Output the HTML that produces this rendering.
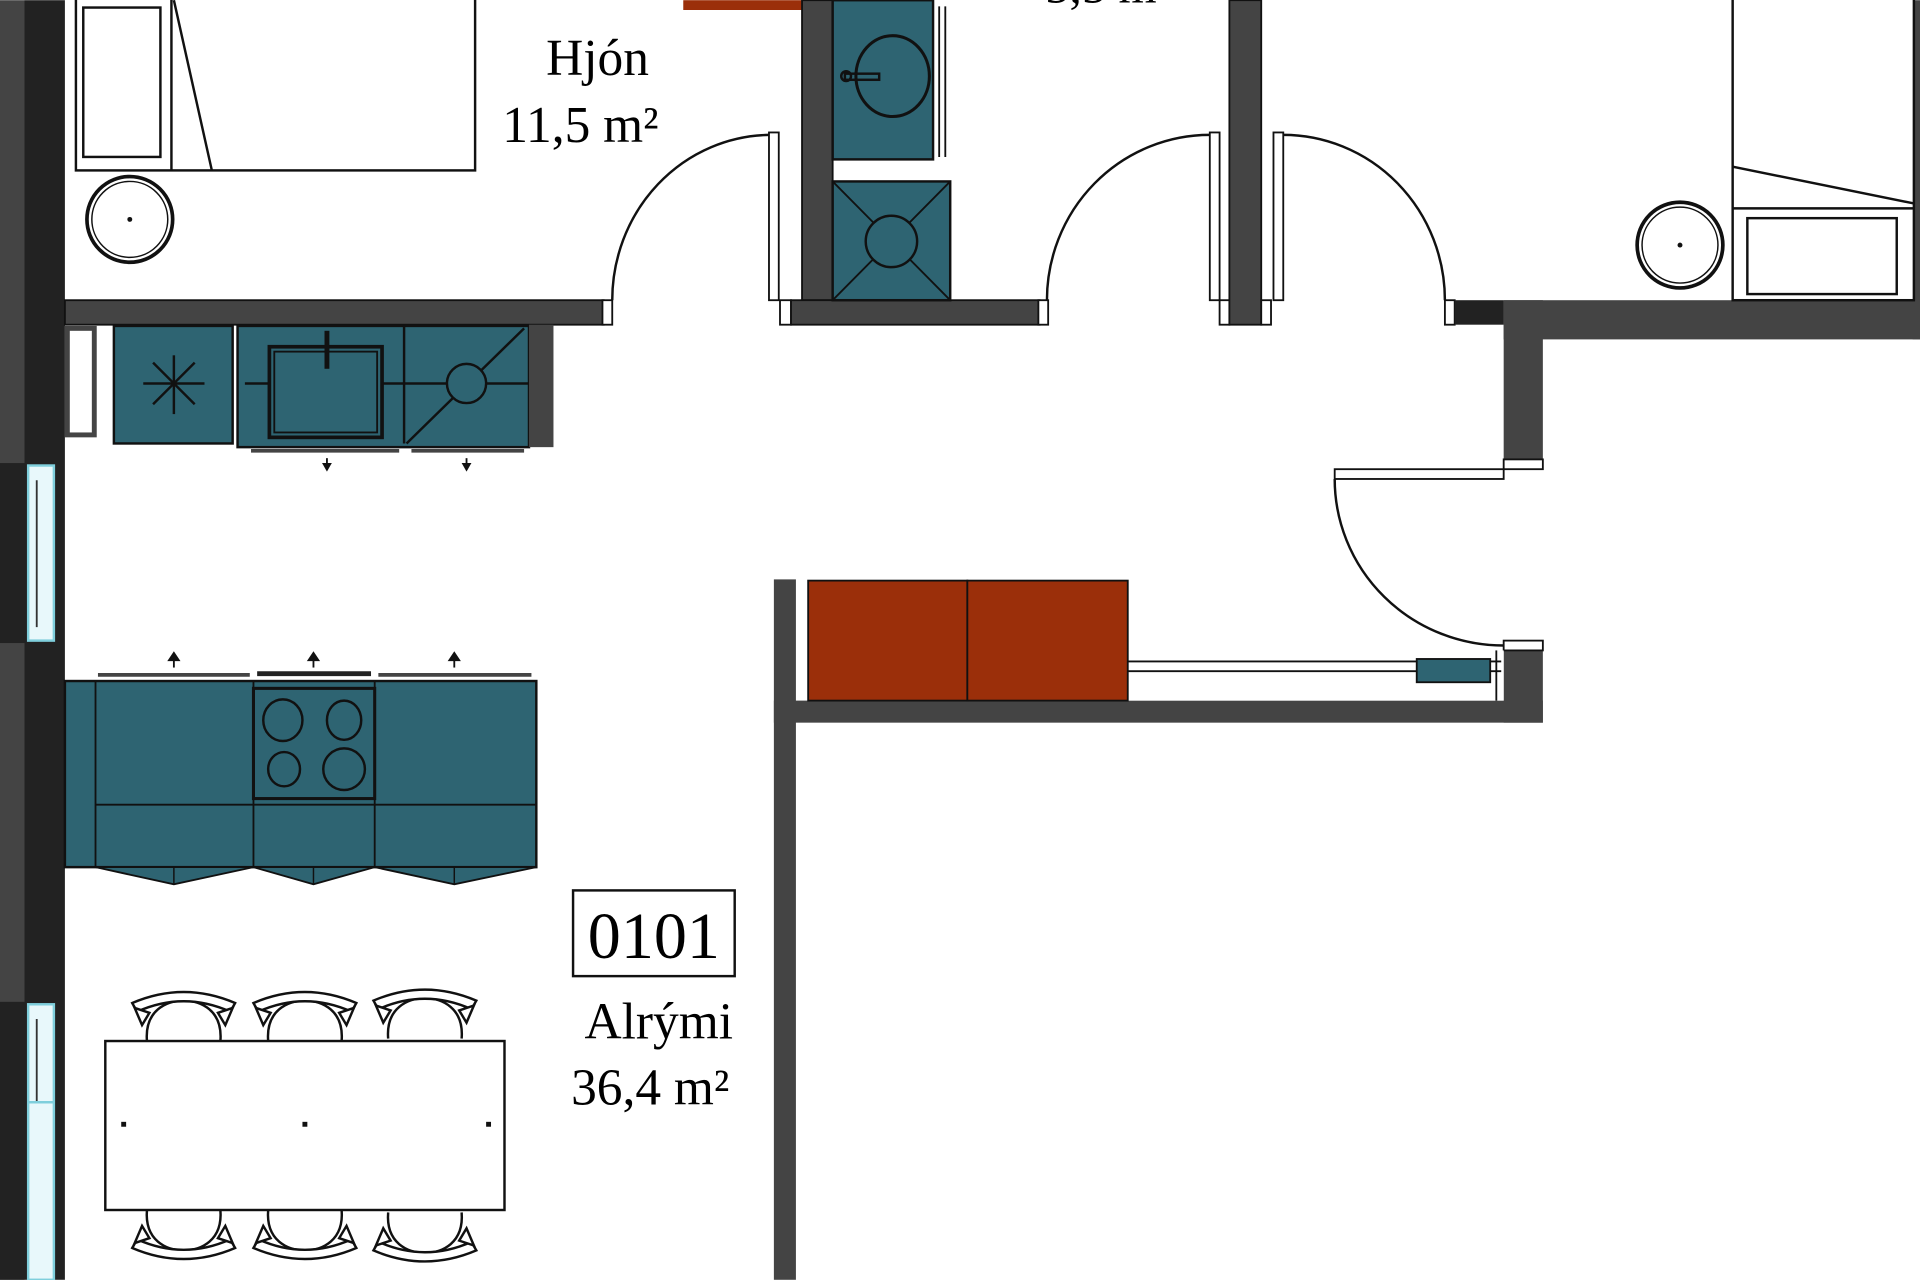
<!DOCTYPE html>
<html><head><meta charset="utf-8"><style>html,body{margin:0;padding:0;background:#fff;width:1920px;height:1280px;overflow:hidden}svg{display:block}</style></head>
<body>
<svg width="1920" height="1280" viewBox="0 0 1568 1045" xmlns="http://www.w3.org/2000/svg" font-family="'Liberation Serif', serif">
<defs>
<g id="chairT"><path d="M-30,-1 C-32,-26 -14,-34 0,-34 C14,-34 32,-26 30,-1" fill="none" stroke="#111" stroke-width="2"/><path d="M-42,-32 Q0,-50 42,-32 L38,-25 Q0,-42 -38,-25 Z" fill="#fff" stroke="#111" stroke-width="2"/><path d="M-40,-28 L-28,-24 L-34,-14 Z" fill="#fff" stroke="#111" stroke-width="2"/><path d="M40,-28 L28,-24 L34,-14 Z" fill="#fff" stroke="#111" stroke-width="2"/></g>
</defs>
<rect x="558" y="0" width="97" height="8" fill="#9b2f0a"/>
<text x="905" y="2" font-size="40" text-anchor="middle">5,5 m²</text>
<rect x="0" y="0" width="20" height="1045" fill="#444"/>
<rect x="20" y="0" width="33" height="1045" fill="#222"/>
<rect x="0" y="378" width="20" height="147" fill="#222"/>
<rect x="0" y="818" width="20" height="227" fill="#222"/>
<rect x="23" y="380" width="21" height="143" fill="#e8f8fb" stroke="#7fcfdc" stroke-width="2"/>
<line x1="30" y1="392" x2="30" y2="512" stroke="#333" stroke-width="1.5"/>
<rect x="23" y="820" width="21" height="225" fill="#e8f8fb" stroke="#7fcfdc" stroke-width="2"/>
<line x1="30" y1="832" x2="30" y2="900" stroke="#333" stroke-width="1.5"/>
<line x1="23" y1="900" x2="44" y2="900" stroke="#7fcfdc" stroke-width="2"/>
<rect x="62" y="-2" width="326" height="141" fill="#fff" stroke="#111" stroke-width="2"/>
<line x1="140" y1="-2" x2="140" y2="139" stroke="#111" stroke-width="2"/>
<rect x="68" y="6" width="63" height="122" fill="#fff" stroke="#111" stroke-width="2"/>
<line x1="142" y1="0" x2="173" y2="139" stroke="#111" stroke-width="2"/>
<circle cx="106" cy="179" r="35" fill="none" stroke="#111" stroke-width="3"/>
<circle cx="106" cy="179" r="31" fill="none" stroke="#111" stroke-width="1.2"/>
<circle cx="106" cy="179" r="2" fill="#111"/>
<text x="488" y="61" font-size="42" text-anchor="middle">Hjón</text>
<text x="474" y="116" font-size="42" text-anchor="middle">11,5 m²</text>
<rect x="53" y="245" width="440" height="20" fill="#444" stroke="#111" stroke-width="1.5"/>
<rect x="492" y="245" width="8" height="20" fill="#fff" stroke="#111" stroke-width="1.5"/>
<rect x="628" y="108" width="8" height="137" fill="#fff" stroke="#111" stroke-width="1.5"/>
<path d="M628,110 A130,135 0 0 0 500,245" fill="none" stroke="#111" stroke-width="2"/>
<rect x="637" y="245" width="9" height="20" fill="#fff" stroke="#111" stroke-width="1.5"/>
<rect x="655" y="0" width="25" height="245" fill="#444" stroke="#111" stroke-width="1.5"/>
<rect x="646" y="245" width="203" height="20" fill="#444" stroke="#111" stroke-width="1.5"/>
<rect x="680" y="0" width="82" height="130" fill="#2e6472" stroke="#111" stroke-width="2"/>
<ellipse cx="729" cy="62" rx="30" ry="33" fill="none" stroke="#111" stroke-width="2.5"/>
<rect x="690" y="60" width="28" height="5" fill="none" stroke="#111" stroke-width="2"/>
<circle cx="691" cy="62" r="4" fill="none" stroke="#111" stroke-width="2"/>
<line x1="767" y1="5" x2="767" y2="128" stroke="#111" stroke-width="1.5"/>
<line x1="772" y1="5" x2="772" y2="128" stroke="#111" stroke-width="1.5"/>
<rect x="680" y="148" width="96" height="97" fill="#2e6472" stroke="#111" stroke-width="2"/>
<line x1="680" y1="148" x2="776" y2="245" stroke="#111" stroke-width="1.5"/>
<line x1="776" y1="148" x2="680" y2="245" stroke="#111" stroke-width="1.5"/>
<circle cx="728" cy="197" r="21" fill="#2e6472" stroke="#111" stroke-width="2"/>
<rect x="848" y="245" width="8" height="20" fill="#fff" stroke="#111" stroke-width="1.5"/>
<rect x="988" y="108" width="8" height="137" fill="#fff" stroke="#111" stroke-width="1.5"/>
<path d="M988,110 A133,135 0 0 0 855,245" fill="none" stroke="#111" stroke-width="2"/>
<rect x="996" y="245" width="8" height="20" fill="#fff" stroke="#111" stroke-width="1.5"/>
<rect x="1004" y="0" width="26" height="265" fill="#444" stroke="#111" stroke-width="1.5"/>
<rect x="1030" y="245" width="8" height="20" fill="#fff" stroke="#111" stroke-width="1.5"/>
<rect x="1040" y="108" width="8" height="137" fill="#fff" stroke="#111" stroke-width="1.5"/>
<path d="M1048,110 A132,135 0 0 1 1180,245" fill="none" stroke="#111" stroke-width="2"/>
<rect x="1180" y="245" width="8" height="20" fill="#fff" stroke="#111" stroke-width="1.5"/>
<rect x="1188" y="245" width="40" height="20" fill="#222"/>
<rect x="1228" y="245" width="340" height="32" fill="#444"/>
<rect x="1228" y="245" width="32" height="130" fill="#444"/>
<rect x="1562" y="0" width="6" height="277" fill="#444"/>
<rect x="1228" y="375" width="32" height="8" fill="#fff" stroke="#111" stroke-width="1.5"/>
<rect x="1415" y="-2" width="148" height="247" fill="#fff" stroke="#111" stroke-width="2"/>
<line x1="1415" y1="136" x2="1563" y2="166" stroke="#111" stroke-width="2"/>
<line x1="1415" y1="170" x2="1563" y2="170" stroke="#111" stroke-width="2"/>
<rect x="1427" y="178" width="122" height="62" fill="#fff" stroke="#111" stroke-width="2"/>
<circle cx="1372" cy="200" r="35" fill="none" stroke="#111" stroke-width="3"/>
<circle cx="1372" cy="200" r="31" fill="none" stroke="#111" stroke-width="1.2"/>
<circle cx="1372" cy="200" r="2" fill="#111"/>
<rect x="1090" y="383" width="138" height="8" fill="#fff" stroke="#111" stroke-width="1.5"/>
<path d="M1090,391 A138,136 0 0 0 1228,527" fill="none" stroke="#111" stroke-width="2"/>
<rect x="632" y="473" width="18" height="572" fill="#444"/>
<rect x="632" y="572" width="628" height="18" fill="#444"/>
<rect x="1228" y="523" width="32" height="67" fill="#444"/>
<rect x="1228" y="523" width="32" height="8" fill="#fff" stroke="#111" stroke-width="1.5"/>
<rect x="921" y="531" width="307" height="41" fill="#fff"/>
<rect x="660" y="474" width="130" height="98" fill="#9b2f0a" stroke="#111" stroke-width="1.5"/>
<rect x="790" y="474" width="131" height="98" fill="#9b2f0a" stroke="#111" stroke-width="1.5"/>
<line x1="921" y1="540" x2="1226" y2="540" stroke="#111" stroke-width="1.5"/>
<line x1="921" y1="548" x2="1226" y2="548" stroke="#111" stroke-width="1.5"/>
<line x1="1222" y1="531" x2="1222" y2="572" stroke="#111" stroke-width="1.5"/>
<rect x="1157" y="538" width="60" height="19" fill="#2e6472" stroke="#111" stroke-width="1.5"/>
<rect x="55" y="268" width="22" height="87" fill="#fff" stroke="#444" stroke-width="4"/>
<rect x="93" y="266" width="97" height="96" fill="#2e6472" stroke="#111" stroke-width="2"/>
<g stroke="#111" stroke-width="2"><line x1="142" y1="290" x2="142" y2="338"/><line x1="117" y1="313" x2="167" y2="313"/><line x1="125" y1="296" x2="159" y2="330"/><line x1="159" y1="296" x2="125" y2="330"/></g>
<rect x="194" y="266" width="238" height="99" fill="#2e6472" stroke="#111" stroke-width="2"/>
<line x1="330" y1="266" x2="330" y2="362" stroke="#111" stroke-width="2"/>
<line x1="200" y1="313" x2="432" y2="313" stroke="#111" stroke-width="2"/>
<rect x="220" y="283" width="92" height="74" fill="#2e6472" stroke="#111" stroke-width="3"/>
<rect x="224" y="287" width="84" height="66" fill="#2e6472" stroke="#111" stroke-width="1.5"/>
<line x1="267" y1="270" x2="267" y2="301" stroke="#111" stroke-width="4"/>
<line x1="332" y1="362" x2="428" y2="268" stroke="#111" stroke-width="2"/>
<circle cx="381" cy="313" r="16" fill="#2e6472" stroke="#111" stroke-width="2"/>
<rect x="432" y="265" width="20" height="100" fill="#444"/>
<line x1="205" y1="368" x2="326" y2="368" stroke="#444" stroke-width="3"/>
<line x1="336" y1="368" x2="428" y2="368" stroke="#444" stroke-width="3"/>
<g fill="#111"><path d="M263,378 L271,378 L267,385 Z"/><line x1="267" y1="374" x2="267" y2="380" stroke="#111" stroke-width="1.5"/><path d="M377,378 L385,378 L381,385 Z"/><line x1="381" y1="374" x2="381" y2="380" stroke="#111" stroke-width="1.5"/></g>
<rect x="53" y="556" width="385" height="152" fill="#2e6472" stroke="#111" stroke-width="2"/>
<g stroke="#111" stroke-width="1.5" fill="none"><line x1="78" y1="556" x2="78" y2="708"/><line x1="207" y1="556" x2="207" y2="708"/><line x1="306" y1="556" x2="306" y2="708"/><line x1="78" y1="657" x2="438" y2="657"/></g>
<rect x="207" y="562" width="99" height="90" fill="#2e6472" stroke="#111" stroke-width="2.5"/>
<g fill="none" stroke="#111" stroke-width="2"><ellipse cx="231" cy="588" rx="16" ry="17"/><ellipse cx="281" cy="588" rx="14" ry="16"/><ellipse cx="232" cy="628" rx="13" ry="14"/><ellipse cx="281" cy="628" rx="17" ry="17"/></g>
<line x1="80" y1="551" x2="204" y2="551" stroke="#444" stroke-width="3"/>
<line x1="210" y1="550" x2="303" y2="550" stroke="#222" stroke-width="4"/>
<line x1="309" y1="551" x2="434" y2="551" stroke="#444" stroke-width="3"/>
<g fill="#111" stroke="#111" stroke-width="1.5"><path d="M138,539 L146,539 L142,533 Z"/><line x1="142" y1="538" x2="142" y2="545"/><path d="M252,539 L260,539 L256,533 Z"/><line x1="256" y1="538" x2="256" y2="545"/><path d="M367,539 L375,539 L371,533 Z"/><line x1="371" y1="538" x2="371" y2="545"/></g>
<g fill="#2e6472" stroke="#111" stroke-width="1.5"><path d="M78,708 L142,722 L207,708 Z"/><path d="M207,708 L256,722 L306,708 Z"/><path d="M306,708 L371,722 L438,708 Z"/></g>
<g stroke="#111" stroke-width="1.2"><line x1="142" y1="708" x2="142" y2="722"/><line x1="256" y1="708" x2="256" y2="722"/><line x1="371" y1="708" x2="371" y2="722"/></g>
<rect x="468" y="727" width="132" height="70" fill="#fff" stroke="#111" stroke-width="2"/>
<text x="534" y="782" font-size="54" text-anchor="middle">0101</text>
<text x="538" y="848" font-size="42" text-anchor="middle">Alrými</text>
<text x="531" y="902" font-size="42" text-anchor="middle">36,4 m²</text>
<use href="#chairT" x="150" y="851"/>
<use href="#chairT" x="249" y="851"/>
<use href="#chairT" x="347" y="849"/>
<use href="#chairT" transform="translate(150,987) scale(1,-1)"/>
<use href="#chairT" transform="translate(249,987) scale(1,-1)"/>
<use href="#chairT" transform="translate(347,989) scale(1,-1)"/>
<rect x="86" y="850" width="326" height="138" fill="#fff" stroke="#111" stroke-width="2"/>
<g fill="#111"><rect x="99" y="916" width="4" height="4"/><rect x="247" y="916" width="4" height="4"/><rect x="397" y="916" width="4" height="4"/></g>
</svg>
</body></html>
